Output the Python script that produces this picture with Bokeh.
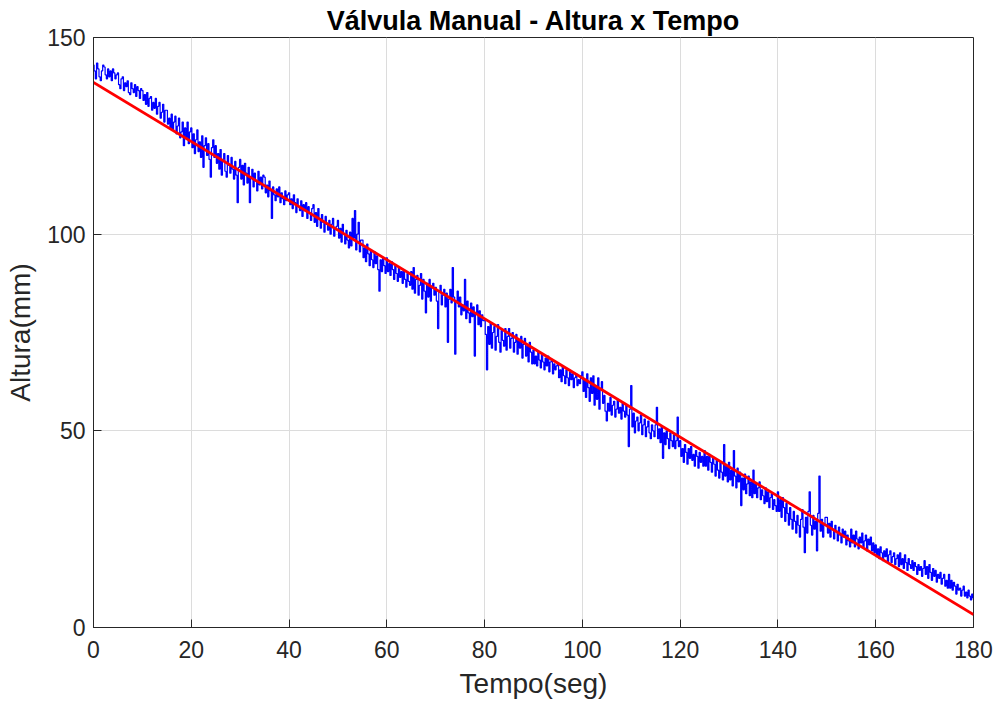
from bokeh.plotting import figure
from bokeh.models import Range1d, FixedTicker
from bokeh.embed import file_html
from bokeh.resources import INLINE

# Measured height (mm), one value per 0.25 s, from t = 0 to 180 s (one row = 5 s)
altura = [
    143.0, 141.5, 139.5, 143.5, 142.0, 140.0, 139.0, 141.5, 143.0, 142.5, 140.5, 139.5, 142.0, 140.0, 141.5, 139.0, 142.0, 141.0, 139.5, 140.5,
    141.0, 138.0, 137.0, 139.5, 140.0, 136.5, 138.5, 137.5, 139.0, 136.0, 135.5, 138.5, 137.0, 136.0, 138.0, 135.0, 137.5, 136.5, 134.5, 137.0,
    136.5, 134.0, 135.5, 133.0, 136.0, 132.5, 134.5, 135.0, 131.5, 133.5, 132.0, 134.5, 130.5, 132.5, 133.5, 129.5, 131.0, 133.0, 128.5, 131.5,
    131.5, 128.0, 129.5, 127.0, 130.5, 126.5, 128.5, 130.0, 125.5, 127.5, 129.5, 124.5, 126.0, 128.5, 122.5, 127.0, 124.5, 128.5, 123.0, 126.0,
    127.0, 122.0, 125.5, 120.5, 124.0, 126.5, 121.0, 123.5, 119.5, 125.0, 117.0, 122.5, 124.5, 120.0, 123.0, 119.0, 114.5, 122.0, 124.0, 119.5,
    122.5, 118.0, 120.5, 116.5, 121.5, 115.0, 119.0, 120.5, 116.0, 114.5, 120.0, 117.5, 115.5, 119.5, 116.5, 114.0, 118.5, 115.0, 108.0, 117.0,
    119.0, 114.0, 117.5, 112.5, 118.0, 115.5, 113.0, 117.0, 108.0, 114.5, 116.5, 112.0, 115.5, 113.5, 111.0, 116.0, 112.5, 114.5, 111.5, 115.0,
    114.5, 110.5, 112.5, 109.5, 113.5, 111.0, 104.0, 112.0, 110.0, 108.5, 111.5, 109.5, 112.0, 108.0, 110.5, 109.0, 107.5, 111.0, 108.5, 110.0,
    110.5, 107.5, 109.0, 106.5, 110.0, 108.0, 105.5, 109.0, 107.0, 106.0, 108.5, 104.5, 107.5, 106.0, 108.0, 104.0, 107.0, 105.5, 103.5, 106.5,
    107.5, 103.0, 105.5, 102.0, 106.5, 104.0, 101.5, 105.0, 103.0, 100.5, 104.5, 102.5, 101.0, 103.5, 100.0, 102.5, 104.0, 99.5, 101.5, 102.0,
    103.5, 99.0, 101.5, 98.0, 102.5, 100.0, 97.5, 101.0, 98.5, 96.5, 100.5, 97.0, 104.0, 99.0, 106.0, 96.0, 100.0, 103.0, 95.5, 98.5,
    98.5, 94.0, 96.5, 93.0, 97.5, 95.0, 92.0, 96.0, 93.5, 91.5, 95.5, 92.5, 94.5, 91.0, 85.5, 93.5, 90.5, 94.0, 92.0, 90.0,
    94.0, 90.5, 92.5, 89.5, 93.0, 91.0, 88.5, 92.0, 90.0, 88.0, 91.5, 89.0, 90.5, 87.5, 91.0, 88.5, 86.5, 90.0, 88.0, 87.0,
    90.5, 86.0, 91.5, 85.0, 88.5, 89.5, 84.5, 87.0, 90.0, 83.5, 88.5, 85.5, 80.0, 87.5, 84.0, 88.5, 83.0, 86.5, 87.5, 84.5,
    86.5, 83.0, 76.0, 85.5, 87.0, 82.0, 84.5, 86.0, 81.5, 85.0, 72.5, 83.5, 86.0, 82.5, 91.5, 84.0, 69.5, 83.0, 85.5, 81.5,
    84.0, 79.5, 82.0, 80.5, 88.5, 78.5, 83.0, 80.0, 77.5, 82.5, 79.0, 81.5, 69.0, 80.0, 82.0, 77.0, 80.5, 76.5, 79.5, 78.0,
    78.0, 74.5, 65.5, 76.5, 72.0, 77.5, 71.0, 75.0, 76.5, 70.5, 74.0, 77.0, 72.5, 70.0, 75.5, 73.0, 71.5, 76.0, 70.5, 74.0,
    76.0, 71.0, 73.5, 75.0, 70.0, 72.5, 74.5, 69.5, 73.0, 71.0, 74.0, 68.5, 72.0, 73.5, 69.0, 71.5, 67.5, 72.5, 70.0, 67.0,
    70.5, 67.0, 69.0, 66.5, 70.0, 68.0, 66.0, 69.5, 67.5, 65.5, 68.5, 66.5, 69.0, 65.0, 67.5, 68.0, 64.5, 67.0, 65.5, 66.5,
    67.0, 63.5, 65.5, 62.5, 66.5, 64.0, 62.0, 65.5, 63.5, 61.5, 65.0, 63.0, 64.5, 61.0, 63.5, 64.5, 61.5, 63.0, 62.0, 64.0,
    65.0, 60.0, 63.0, 58.5, 64.5, 61.0, 57.5, 63.5, 59.5, 64.0, 56.5, 61.5, 58.0, 63.5, 55.5, 60.5, 62.5, 57.0, 59.0, 55.0,
    52.5, 57.0, 55.0, 58.5, 54.0, 56.5, 57.5, 53.5, 55.5, 58.0, 54.5, 56.0, 53.0, 57.0, 55.0, 53.5, 56.5, 54.0, 46.0, 55.5,
    61.5, 51.0, 54.5, 49.5, 52.5, 53.5, 50.0, 52.0, 54.0, 49.0, 51.5, 53.0, 48.5, 51.0, 52.5, 49.5, 48.0, 51.5, 50.0, 48.5,
    51.5, 56.0, 48.0, 50.5, 47.0, 51.0, 43.0, 49.5, 46.5, 50.0, 48.0, 45.5, 49.5, 47.5, 46.0, 49.0, 45.5, 47.5, 53.5, 46.0,
    47.5, 43.5, 45.5, 42.0, 46.5, 44.5, 41.5, 45.5, 43.0, 46.0, 42.5, 44.0, 41.0, 45.0, 43.5, 40.5, 44.5, 42.0, 43.5, 41.0,
    45.0, 41.0, 43.5, 40.0, 44.0, 42.0, 39.5, 43.0, 41.5, 38.5, 42.5, 40.0, 38.0, 42.0, 39.5, 37.5, 46.5, 38.5, 41.0, 37.0,
    42.0, 37.5, 40.0, 36.0, 45.0, 38.5, 35.5, 40.5, 37.0, 39.5, 31.0, 38.0, 35.0, 39.0, 34.0, 36.5, 38.5, 33.5, 37.0, 33.0,
    40.0, 34.0, 36.5, 33.0, 35.5, 37.0, 32.5, 35.0, 33.5, 31.5, 35.5, 32.0, 34.5, 30.5, 33.0, 34.0, 30.0, 32.5, 31.0, 29.5,
    34.5, 29.5, 32.5, 28.0, 33.0, 30.5, 27.0, 31.5, 29.0, 26.0, 30.5, 27.5, 25.0, 29.5, 27.0, 24.0, 28.5, 26.0, 23.0, 27.5,
    30.0, 25.5, 19.0, 28.0, 24.0, 29.5, 34.5, 26.0, 23.5, 28.5, 25.0, 27.0, 19.5, 29.0, 38.5, 24.5, 27.5, 23.0, 26.0, 28.0,
    28.0, 24.0, 26.5, 23.0, 27.0, 25.0, 22.5, 26.0, 24.5, 22.0, 25.5, 23.5, 21.5, 25.0, 23.0, 24.5, 21.0, 23.5, 22.0, 20.5,
    25.0, 21.5, 23.5, 20.5, 24.5, 22.5, 20.0, 23.0, 21.5, 24.0, 20.5, 22.0, 23.5, 19.5, 22.5, 21.0, 23.0, 19.5, 21.5, 19.0,
    21.0, 18.0, 20.0, 17.5, 20.5, 19.0, 17.0, 19.5, 18.0, 20.0, 16.5, 18.5, 19.5, 16.5, 18.0, 19.0, 16.0, 17.5, 18.5, 15.5,
    19.0, 16.0, 17.5, 15.0, 18.5, 16.5, 14.5, 17.5, 16.0, 15.0, 17.0, 14.5, 16.5, 15.5, 13.5, 16.0, 14.5, 15.5, 13.0, 15.0,
    17.0, 13.5, 15.5, 12.5, 16.0, 14.0, 12.0, 15.0, 13.0, 14.5, 11.5, 13.5, 12.5, 14.0, 11.0, 12.5, 13.5, 10.5, 12.0, 10.0,
    13.5, 10.0, 12.0, 9.5, 11.5, 10.5, 8.5, 11.0, 9.5, 10.0, 8.0, 9.5, 10.5, 8.0, 9.0, 7.5, 9.5, 8.0, 7.0, 8.5,
    7.5,
]
tempo = [i * 0.25 for i in range(len(altura))]

# Linear fit endpoints (red line)
ajuste_t = [0, 180]
ajuste_h = [138.6, 3.3]

x_ticks = [0, 20, 40, 60, 80, 100, 120, 140, 160, 180]
y_ticks = [0, 50, 100, 150]

FONT = "Liberation Sans"
DARK = "#262626"

p = figure(width=995, height=706, output_backend="svg", toolbar_location=None,
           x_range=Range1d(0, 180), y_range=Range1d(0, 150),
           min_border_left=93, min_border_right=22, min_border_top=37,
           min_border_bottom=79, title="Válvula Manual - Altura x Tempo")

p.title.align = "center"
p.title.text_font = FONT
p.title.text_font_size = "27px"
p.title.text_font_style = "bold"
p.title.text_color = "#000000"
p.title.offset = 0
p.title.standoff = 4

p.step(tempo, altura, mode="center", line_color="#0000ff", line_width=1.2)
p.line(ajuste_t, ajuste_h, line_color="#ff0000", line_width=2.8)

for ax, ticks, label in ((p.xaxis[0], x_ticks, "Tempo(seg)"),
                         (p.yaxis[0], y_ticks, "Altura(mm)")):
    ax.ticker = FixedTicker(ticks=ticks)
    ax.axis_label = label
    ax.axis_label_text_font = FONT
    ax.axis_label_text_font_size = "28px"
    ax.axis_label_text_font_style = "normal"
    ax.axis_label_text_color = DARK
    ax.major_label_text_font = FONT
    ax.major_label_text_font_size = "23px"
    ax.major_label_text_color = DARK
    ax.axis_line_color = DARK
    ax.major_tick_line_color = DARK
    ax.major_tick_in = 8
    ax.major_tick_out = 0
    ax.minor_tick_line_color = None

p.xaxis.major_label_standoff = 13
p.yaxis.major_label_standoff = 8
p.xaxis.axis_label_standoff = 7
p.yaxis.axis_label_standoff = 8

p.xgrid.ticker = FixedTicker(ticks=x_ticks)
p.ygrid.ticker = FixedTicker(ticks=y_ticks)
p.grid.grid_line_color = "#dcdcdc"
p.grid.grid_line_alpha = 1.0

p.outline_line_color = DARK
p.outline_line_width = 1
p.outline_line_alpha = 1.0
p.background_fill_color = "#ffffff"
p.border_fill_color = "#ffffff"

open("out.html", "w").write(file_html(p, INLINE))
